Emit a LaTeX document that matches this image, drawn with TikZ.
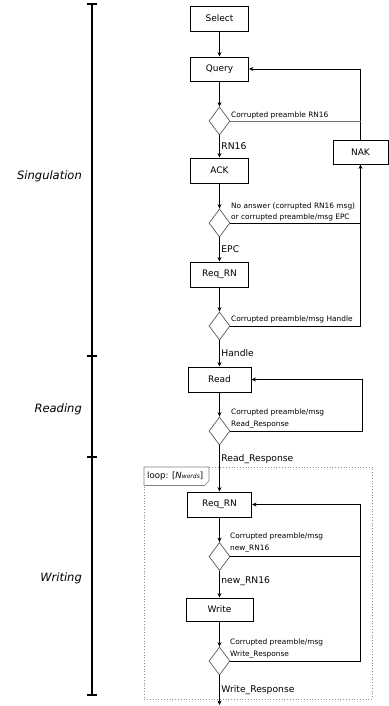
\documentclass[tikz,border=0pt]{standalone}
\usepackage{fontspec}
\setmainfont{DejaVu Sans}
\usetikzlibrary{shapes.geometric,arrows.meta}
\begin{document}
\begin{tikzpicture}[x=1pt,y=-1pt,
  box/.style={draw=black,line width=0.9pt,minimum height=25pt,inner sep=0pt,font=\fontsize{9}{10}\selectfont},
  dia/.style={draw=black!65,line width=0.7pt,diamond,aspect=0.75,minimum width=21pt,minimum height=28pt,inner sep=0pt},
  arr/.style={line width=0.8pt,-{Stealth[length=4.5pt,width=4pt]}},
  ln/.style={line width=0.8pt},
  elab/.style={right,inner sep=1.5pt,font=\fontsize{9.2}{10}\selectfont},
  slab/.style={anchor=west,inner sep=0pt,align=left,font=\fontsize{7.4}{11.5}\selectfont},
  phase/.style={anchor=east,inner sep=0pt,font=\fontsize{11.5}{12}\selectfont\itshape},
  tick/.style={line width=1.4pt}
]
\useasboundingbox (0,0) rectangle (388,706);
% left axis
\coordinate (ax0) at (92,4);
\coordinate (ax1) at (92,356);
\coordinate (ax2) at (92,457);
\coordinate (ax3) at (92,695);
\draw[line width=2pt] (ax0) -- (ax3);
\foreach \c in {ax0,ax1,ax2,ax3} \draw[tick] ([xshift=-5pt]\c) -- ([xshift=5pt]\c);
\node[phase] (ps) at (82,176) {Singulation};
\node[phase] (pr) at (82,409) {Reading};
\node[phase] (pw) at (82,578) {Writing};
% loop frame
\draw[black!45,dotted,line width=0.8pt] (144,467) rectangle (372,699);
\draw[black!50,line width=0.6pt,fill=white] (144,467) -- (209,467) -- (209,481) -- (204.5,485.5) -- (144,485.5) -- cycle;
\node[anchor=west,inner sep=0pt,font=\fontsize{8.6}{10}\selectfont] (looplab) at (147,476) {loop: [\textit{N}{\fontsize{6}{7}\selectfont\textit{words}}]};
% nodes
\node[box,minimum width=58pt] (select) at (219.5,18.5) {Select};
\node[box,minimum width=58pt,minimum height=24pt] (query) at (219.5,69) {Query};
\node[dia] (d1) at (219.5,121) {};
\node[box,minimum width=58pt] (ack) at (219.5,170.5) {ACK};
\node[dia] (d2) at (219.5,223) {};
\node[box,minimum width=58pt] (reqrn) at (219.5,274.5) {Req\_RN};
\node[dia] (d3) at (219.5,326) {};
\node[box,minimum width=63pt] (read) at (219.5,379.5) {Read};
\node[dia] (d4) at (219.5,431) {};
\node[box,minimum width=64pt] (reqrn2) at (219.5,504.5) {Req\_RN};
\node[dia] (d5) at (219.5,556.5) {};
\node[box,minimum width=67pt,minimum height=23pt] (write) at (219.5,609.5) {Write};
\node[dia] (d6) at (219.5,661) {};
\node[box,minimum width=55pt,minimum height=24pt] (nak) at (360.5,152) {NAK};
\coordinate (wend) at (219.5,705);
% small labels
\node[slab] (l1) at (231,115) {Corrupted preamble RN16};
\node[slab] (l2) at (231,212) {No answer (corrupted RN16 msg)\\or corrupted preamble/msg EPC};
\node[slab] (l3) at (231,319) {Corrupted preamble/msg Handle};
\node[slab] (l4) at (231,418.5) {Corrupted preamble/msg\\Read\_Response};
\node[slab] (l5) at (230,542.5) {Corrupted preamble/msg\\new\_RN16};
\node[slab] (l6) at (230,648.5) {Corrupted preamble/msg\\Write\_Response};
% main flow
\draw[arr] (select) -- (query);
\draw[arr] (query) -- (d1);
\draw[arr] (d1) -- node[elab]{RN16} (ack);
\draw[arr] (ack) -- (d2);
\draw[arr] (d2) -- node[elab]{EPC} (reqrn);
\draw[arr] (reqrn) -- (d3);
\draw[arr] (d3) -- node[elab]{Handle} (read);
\draw[arr] (read) -- (d4);
\draw[arr] (d4) -- node[elab,pos=0.3]{Read\_Response} (reqrn2);
\draw[arr] (reqrn2) -- (d5);
\draw[arr] (d5) -- node[elab,pos=0.4]{new\_RN16} (write);
\draw[arr] (write) -- (d6);
\draw[arr] (d6) -- node[elab]{Write\_Response} (wend);
% singulation feedback
\draw[arr] (nak.north) |- (query.east);
\draw[ln,black!55] (d1.east) -- (d1.east -| nak.north);
\draw[ln] (d2.east) -- (d2.east -| nak.south);
\draw[arr] (d3.east) -| (nak.south);
% reading feedback
\coordinate (rr) at (362,431);
\draw[arr] (d4.east) -- (rr) |- (read.east);
% writing feedback
\coordinate (wr1) at (360,556.5);
\coordinate (wr2) at (360,661);
\draw[arr] (d5.east) -- (wr1) |- (reqrn2.east);
\draw[ln] (d6.east) -- (wr2) -- (wr1);
\end{tikzpicture}
\end{document}
